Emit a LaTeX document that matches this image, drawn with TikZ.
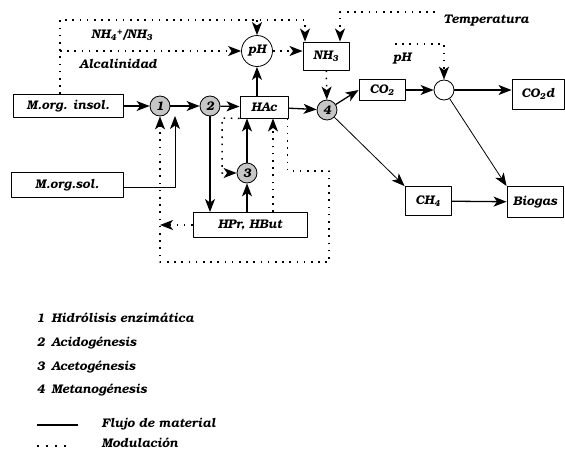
\documentclass[tikz,border=0pt]{standalone}
\usepackage{fontspec}
\setmainfont{texgyrebonum}[Extension=.otf, UprightFont=*-regular, BoldFont=*-bold,
	ItalicFont=*-italic, BoldItalicFont=*-bolditalic]
\usetikzlibrary{arrows.meta,positioning}

\begin{document}
\begin{tikzpicture}[x=1pt, y=-1pt, line join=round,
	font=\bfseries\itshape\fontsize{12.5}{14}\selectfont,
	flujo/.style={line width=1.3pt, -{Stealth[length=13pt,width=10pt,inset=3.5pt]}},
	flujofino/.style={flujo, line width=0.8pt},
	modula/.style={line width=1.5pt, dash pattern=on 1.6pt off 5.6pt, -{Stealth[length=13pt,width=10pt,inset=3.5pt]}},
	caja/.style={draw, line width=0.9pt, minimum height=23pt, inner sep=2pt},
	fase/.style={circle, draw, line width=0.8pt, fill=gray!45, minimum size=20pt, inner sep=0pt}]

	\useasboundingbox (0,0) rectangle (565,458);

	% --- 1. cajas y fases ---
	\node[caja, minimum width=110pt] (insol) at (68,106) {M.org. insol.};
	\node[caja, minimum width=112pt, minimum height=25pt] (sol) at (67,185) {M.org.sol.};
	\node[fase] (f1) at (160,106) {1};
	\node[fase] (f2) at (210,106) {2};
	\node[caja, minimum width=48pt, minimum height=22pt] (hac) at (264,107) {HAc};
	\node[fase] (f3) at (247,173) {3};
	\node[fase] (f4) at (327,110) {4};
	\node[caja, minimum width=114pt, minimum height=25pt] (hpr) at (250,225) {HPr, HBut};
	\node[circle, draw, line width=0.8pt, minimum size=31pt, inner sep=0pt] (ph) at (257,51) {pH};
	\node[caja, minimum width=46pt, minimum height=28pt] (nh3) at (326,56) {NH\textsubscript{3}};
	\node[caja, minimum width=46pt, minimum height=21pt] (co2) at (382,90) {CO\textsubscript{2}};
	\node[circle, draw, line width=0.8pt, minimum size=20pt] (mix) at (444,90) {};
	\node[caja, minimum width=52pt, minimum height=30pt] (co2d) at (538,94) {CO\textsubscript{2}d};
	\node[caja, minimum width=46pt, minimum height=29pt] (ch4) at (428,201) {CH\textsubscript{4}};
	\node[caja, minimum width=56pt, minimum height=31pt] (biogas) at (535,202) {Biogas};

	% --- 2. etiquetas de modulacion ---
	\node (nh4) at (122,35) {NH\textsubscript{4}\textsuperscript{+}/NH\textsubscript{3}};
	\node (alc) at (118,64) {Alcalinidad};
	\node (temp) at (486,21) {Temperatura};
	\node (ph2) at (402,59) {pH};

	% puntos de quiebre
	\coordinate (a1) at (60,20);
	\coordinate (t1) at (435,12);
	\coordinate (p1) at (395,44);
	\coordinate (e1) at (175,116);
	\coordinate (b1) at (329,171);
	\coordinate (b2) at (161,262);
	\coordinate (c3) at (222,118);

	% --- 3. flujo de material ---
	\draw[flujo] (insol) -- (f1);
	\draw[flujo] (f1) -- (f2);
	\draw[flujo] (f2) -- (hac);
	\draw[flujo] (hac) -- (f4);
	\draw[flujo] (ph |- hac.north) -- (ph);
	\draw[flujo] (f2) -- (f2 |- hpr.north);
	\draw[flujo] (f3 |- hpr.north) -- (f3);
	\draw[flujo] (f3) -- (f3 |- hac.south);
	\draw[flujofino] ([yshift=-2pt]sol.east) -| (e1);
	\draw[flujo] (f4) -- (co2.west);
	\draw[flujo] (co2) -- (mix);
	\draw[flujo] (mix) -- (mix -| co2d.west);
	\draw[flujofino] (f4) -- (ch4.north west);
	\draw[flujofino] (mix) -- (biogas.north west);
	\draw[flujo] (ch4) -- (biogas);

	% --- 4. modulacion ---
	\draw[modula] (a1 |- insol.north) -- (a1) -| ([xshift=-21pt]nh3.north);
	\draw[modula] (ph.north |- a1) -- (ph.north);
	\draw[modula] (a1 |- ph) -- (ph.west);
	\draw[modula] (ph) -- (ph -| nh3.west);
	\draw[modula] (t1) -| ([xshift=14pt]nh3.north);
	\draw[modula] (nh3) -- (f4);
	\draw[modula] (p1) -| (mix.north);
	\draw[modula] ([xshift=-1pt]hac.south east) |- (b1) -- (b1 |- b2) -| (f1.south);
	\draw[modula] (hpr.west) -- (hpr.west -| f1);
	\draw[modula] ([xshift=23pt]hpr.north) -- ([xshift=9pt]hac.south);
	\draw[modula] (hac.south west) -- (c3) |- (f3.west);

	% --- 5. leyenda ---
	\foreach \n/\y/\txt in {1/318/Hidrólisis enzimática, 2/343/Acidogénesis,
		3/367/Acetogénesis, 4/390/Metanogénesis}
		\node[anchor=west] at (33,\y) {\n\enspace\txt};
	\draw[line width=1.3pt] (37,425) -- (78,425);
	\node[anchor=west] (leyflujo) at (98,424) {Flujo de material};
	\draw[line width=1.5pt, dash pattern=on 1.6pt off 7.4pt] (37,446) -- (72,446);
	\node[anchor=west] (leymod) at (98,443) {Modulación};
\end{tikzpicture}
\end{document}
